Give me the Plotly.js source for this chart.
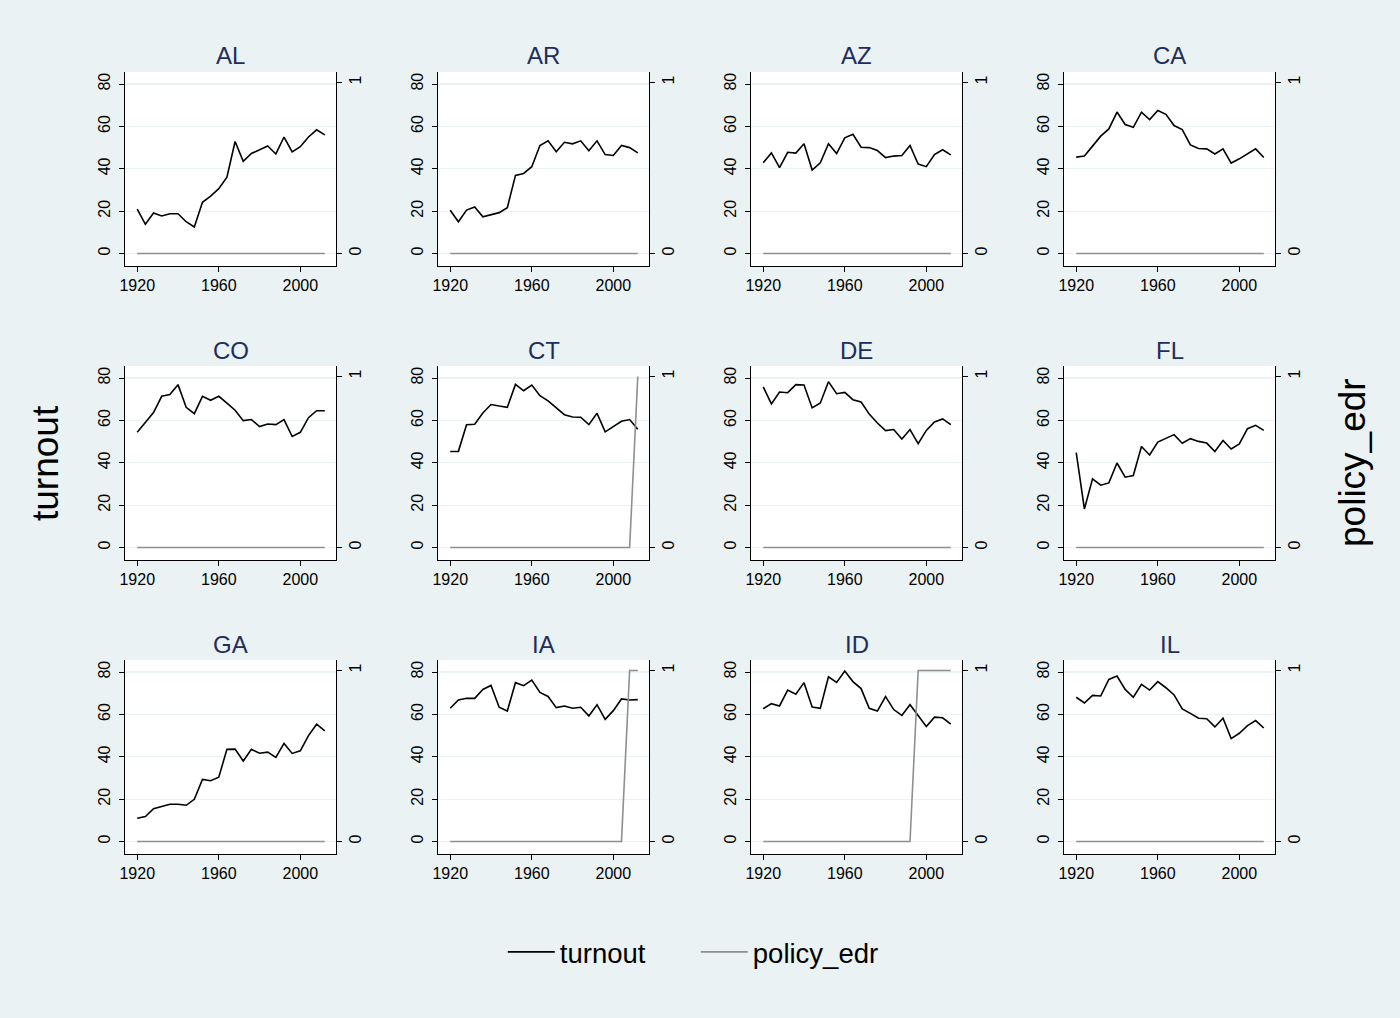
<!DOCTYPE html>
<html>
<head>
<meta charset="utf-8">
<script src="https://cdn.plot.ly/plotly-3.0.1.min.js"></script>
<style>html,body{margin:0;padding:0;background:#EAF2F3;}#chart{width:1400px;height:1018px;}</style>
</head>
<body>
<div id="chart"></div>
<script>
const years = [1920,1924,1928,1932,1936,1940,1944,1948,1952,1956,1960,1964,1968,1972,1976,1980,1984,1988,1992,1996,2000,2004,2008,2012];
const states = ['AL','AR','AZ','CA','CO','CT','DE','FL','GA','IA','ID','IL'];

const AL_turnout = [20.9,13.8,19.1,17.7,18.8,18.8,15.0,12.5,24.2,27.1,30.6,36.0,52.9,43.5,47.2,49.0,50.8,47.0,55.0,48.0,50.4,55.0,58.4,56.0];
const AR_turnout = [20.4,15.0,20.5,22.0,17.3,18.2,19.3,21.6,36.9,37.8,41.0,51.0,53.2,48.0,52.5,51.8,53.2,48.5,53.2,46.7,46.3,51.0,50.0,47.5];
const AZ_turnout = [42.8,47.5,40.5,47.8,47.4,51.8,39.4,42.8,51.8,47.2,54.6,56.3,50.2,50.0,48.6,45.3,46.0,46.3,51.0,42.2,41.0,46.7,49.0,46.6];
const CA_turnout = [45.5,46.0,50.7,55.4,58.8,66.8,60.9,59.6,66.7,63.2,67.5,65.7,60.4,58.5,51.3,49.6,49.4,47.0,49.4,42.7,44.7,47.2,49.4,45.3];
const CO_turnout = [54.4,59.3,63.7,71.4,72.2,76.9,66.2,63.2,71.4,69.5,71.4,68.2,64.8,59.9,60.4,57.1,58.3,58.0,60.4,52.4,54.4,61.3,64.6,64.6];
const CT_turnout = [45.3,45.4,58.0,58.2,63.5,67.5,66.8,66.2,77.0,74.0,76.7,71.7,69.2,66.0,62.7,61.6,61.5,58.0,63.4,54.6,57.1,59.6,60.4,55.8];
const DE_turnout = [75.8,67.8,73.4,73.1,76.9,76.7,65.9,68.2,78.3,72.6,73.2,69.8,68.7,63.0,58.8,55.2,55.7,51.2,55.7,49.0,55.3,59.3,60.7,58.0];
const FL_turnout = [44.8,18.2,32.4,29.4,30.5,39.9,33.2,34.0,47.7,43.7,49.8,51.4,53.3,49.2,51.4,50.1,49.3,45.3,50.5,46.5,48.9,56.1,57.7,55.3];
const GA_turnout = [11.0,11.8,15.5,16.5,17.6,17.6,17.1,19.9,29.3,28.7,30.4,43.5,43.6,38.0,43.5,41.7,42.2,39.7,46.3,41.6,42.8,50.0,55.4,52.2];
const IA_turnout = [62.9,66.8,67.6,67.6,71.8,73.7,63.4,61.6,75.0,73.6,76.2,70.4,68.5,63.2,64.0,62.9,63.4,59.3,64.6,57.7,61.8,67.3,66.8,67.0];
const ID_turnout = [62.7,65.1,64.0,71.5,69.5,75.0,63.5,62.9,77.8,75.1,80.5,75.5,72.2,62.9,61.6,68.4,62.3,59.5,64.6,59.5,54.3,58.7,58.4,55.4];
const IL_turnout = [68.1,65.4,69.0,68.7,76.5,78.1,71.8,68.1,74.2,71.5,75.5,72.6,69.2,62.6,60.5,58.2,58.0,54.1,58.2,48.6,51.1,54.7,57.1,53.6];

const AL_edr = [0,0,0,0,0,0,0,0,0,0,0,0,0,0,0,0,0,0,0,0,0,0,0,0];
const AR_edr = [0,0,0,0,0,0,0,0,0,0,0,0,0,0,0,0,0,0,0,0,0,0,0,0];
const AZ_edr = [0,0,0,0,0,0,0,0,0,0,0,0,0,0,0,0,0,0,0,0,0,0,0,0];
const CA_edr = [0,0,0,0,0,0,0,0,0,0,0,0,0,0,0,0,0,0,0,0,0,0,0,0];
const CO_edr = [0,0,0,0,0,0,0,0,0,0,0,0,0,0,0,0,0,0,0,0,0,0,0,0];
const CT_edr = [0,0,0,0,0,0,0,0,0,0,0,0,0,0,0,0,0,0,0,0,0,0,0,1];
const DE_edr = [0,0,0,0,0,0,0,0,0,0,0,0,0,0,0,0,0,0,0,0,0,0,0,0];
const FL_edr = [0,0,0,0,0,0,0,0,0,0,0,0,0,0,0,0,0,0,0,0,0,0,0,0];
const GA_edr = [0,0,0,0,0,0,0,0,0,0,0,0,0,0,0,0,0,0,0,0,0,0,0,0];
const IA_edr = [0,0,0,0,0,0,0,0,0,0,0,0,0,0,0,0,0,0,0,0,0,0,1,1];
const ID_edr = [0,0,0,0,0,0,0,0,0,0,0,0,0,0,0,0,0,0,0,1,1,1,1,1];
const IL_edr = [0,0,0,0,0,0,0,0,0,0,0,0,0,0,0,0,0,0,0,0,0,0,0,0];

const turnoutByState = {AL:AL_turnout,AR:AR_turnout,AZ:AZ_turnout,CA:CA_turnout,CO:CO_turnout,CT:CT_turnout,DE:DE_turnout,FL:FL_turnout,GA:GA_turnout,IA:IA_turnout,ID:ID_turnout,IL:IL_turnout};
const edrByState = {AL:AL_edr,AR:AR_edr,AZ:AZ_edr,CA:CA_edr,CO:CO_edr,CT:CT_edr,DE:DE_edr,FL:FL_edr,GA:GA_edr,IA:IA_edr,ID:ID_edr,IL:IL_edr};

const W = 1400, H = 1018;
const FONT = 'Liberation Sans, Arial, Helvetica, sans-serif';
const BG = '#EAF2F3';
const TITLE_COLOR = '#1f2d5c';
const GRAY = '#8f8f8f';
const TICK_SIZE = 16;

const traces = [];
const layout = {
  width: W, height: H,
  margin: {l:0, r:0, t:0, b:0},
  paper_bgcolor: BG,
  plot_bgcolor: '#ffffff',
  font: {family: FONT, color: '#000', size: TICK_SIZE},
  showlegend: true,
  legend: {orientation: 'h', x: 0.497, xanchor: 'center', y: 1 - 952/H, yanchor: 'middle',
           font: {size: 27.5, family: FONT, color: '#000'}, bgcolor: 'rgba(0,0,0,0)',
           itemwidth: 47, entrywidth: 131, entrywidthmode: 'pixels'},
  annotations: []
};

const yRangeL = [-5.9, 85.7];
const yRangeR = [yRangeL[0]/80.75, yRangeL[1]/80.75];
const xRange = [1914, 2017.5];

states.forEach((st, i) => {
  const r = Math.floor(i/4), c = i % 4;
  const left = 125 + 313*c, right = left + 211;
  const top = 72 + 294*r, bottom = top + 194;
  const xi = i + 1, yl = i + 1, yr = i + 13;
  const xname = 'xaxis' + (xi === 1 ? '' : xi);
  const ylname = 'yaxis' + (yl === 1 ? '' : yl);
  const yrname = 'yaxis' + yr;
  const xref = 'x' + (xi === 1 ? '' : xi);
  const ylref = 'y' + (yl === 1 ? '' : yl);
  const yrref = 'y' + yr;

  layout[xname] = {
    domain: [left/W, right/W], anchor: ylref, range: xRange,
    tickvals: [1920,1960,2000], ticks: 'outside', ticklen: 5, tickcolor: '#000', tickwidth: 1,
    showline: true, linecolor: '#000', linewidth: 1, showgrid: false, zeroline: false,
    tickfont: {size: TICK_SIZE, family: FONT, color: '#000'}, fixedrange: true
  };
  layout[ylname] = {
    domain: [1 - bottom/H, 1 - top/H], anchor: xref, range: yRangeL,
    tickvals: [0,20,40,60,80], ticks: 'outside', ticklen: 5, tickcolor: '#000', tickwidth: 1,
    tickangle: -90, showline: true, linecolor: '#000', linewidth: 1, ticklabelstandoff: 3,
    showgrid: true, gridcolor: BG, gridwidth: 1.2, zeroline: false,
    tickfont: {size: TICK_SIZE, family: FONT, color: '#000'}, fixedrange: true
  };
  layout[yrname] = {
    overlaying: ylref, anchor: xref, side: 'right', range: yRangeR,
    tickvals: [0,1], ticks: 'outside', ticklen: 5, tickcolor: '#000', tickwidth: 1,
    tickangle: -90, showline: true, linecolor: '#000', linewidth: 1,
    showgrid: false, zeroline: false,
    tickfont: {size: TICK_SIZE, family: FONT, color: '#000'}, fixedrange: true
  };

  traces.push({
    type: 'scatter', mode: 'lines', x: years, y: turnoutByState[st],
    xaxis: xref, yaxis: ylref, name: 'turnout', legendgroup: 'turnout', showlegend: i === 0,
    line: {color: '#000000', width: 1.6}, hoverinfo: 'skip'
  });
  traces.push({
    type: 'scatter', mode: 'lines', x: years, y: edrByState[st],
    xaxis: xref, yaxis: yrref, name: 'policy_edr', legendgroup: 'edr', showlegend: i === 0,
    line: {color: GRAY, width: 1.6}, hoverinfo: 'skip'
  });

  layout.annotations.push({
    text: st, xref: 'paper', yref: 'paper', x: (left+right)/2/W, y: 1 - (top-16)/H,
    xanchor: 'center', yanchor: 'middle', showarrow: false,
    font: {size: 24, family: FONT, color: TITLE_COLOR}
  });
});

const ordered = traces.filter(t => t.name === 'turnout').concat(traces.filter(t => t.name === 'policy_edr'));

layout.annotations.push({
  text: 'turnout', xref: 'paper', yref: 'paper', x: 45/W, y: 1 - 463/H, textangle: -90,
  xanchor: 'center', yanchor: 'middle', showarrow: false, font: {size: 37, family: FONT, color: '#000'}
});
layout.annotations.push({
  text: 'policy_edr', xref: 'paper', yref: 'paper', x: 1352/W, y: 1 - 463/H, textangle: -90,
  xanchor: 'center', yanchor: 'middle', showarrow: false, font: {size: 37, family: FONT, color: '#000'}
});

Plotly.newPlot('chart', ordered, layout, {displayModeBar: false, staticPlot: true});
</script>
</body>
</html>
